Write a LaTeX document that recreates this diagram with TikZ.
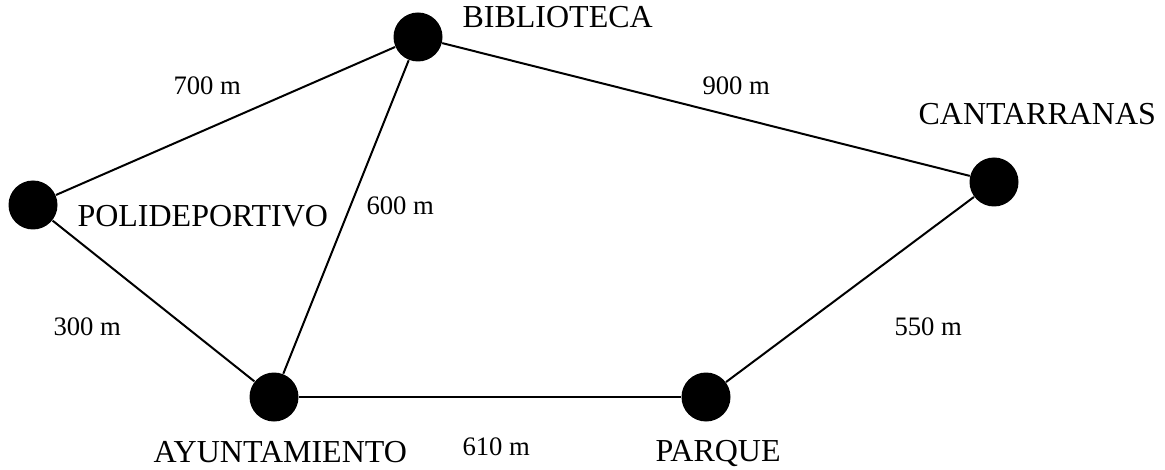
\documentclass[tikz,border=0pt]{standalone}
\usepackage{fontspec}
\setmainfont{Liberation Serif}
\begin{document}
\begin{tikzpicture}[x=0.375pt,y=-0.375pt,
  dot/.style={circle,fill=black,draw=none,minimum size=49*0.375pt,inner sep=0pt},
  place/.style={anchor=base west,inner sep=0pt,font=\fontsize{12}{14}\selectfont},
  dist/.style={anchor=base west,inner sep=0pt,font=\fontsize{10}{12}\selectfont},
  road/.style={line width=0.75pt}]
\useasboundingbox (0,0) rectangle (1165,470);
\node[dot] (bib) at (418,37) {};
\node[dot] (pol) at (33,205) {};
\node[dot] (ayu) at (274,397) {};
\node[dot] (par) at (706,397) {};
\begin{scope}
\clip (900,158) rectangle (1100,260);
\node[dot] (can) at (994,182) {};
\end{scope}
\draw[road] (pol) -- (bib);
\draw[road] (bib) -- (can);
\draw[road] (bib) -- (ayu);
\draw[road] (pol) -- (ayu);
\draw[road] (ayu) -- (par);
\draw[road] (par) -- (can);
\node[place] (lbib) at (462,28) {BIBLIOTECA};
\node[place] (lpol) at (77,227) {POLIDEPORTIVO};
\node[place] (layu) at (153,462) {AYUNTAMIENTO};
\node[place] (lpar) at (655,461) {PARQUE};
\node[place] (lcan) at (918,125) {CANTARRANAS};
\node[dist] (d700) at (173,95) {700 m};
\node[dist] (d900) at (702,95) {900 m};
\node[dist] (d600) at (366,215) {600 m};
\node[dist] (d300) at (53,335) {300 m};
\node[dist] (d550) at (894,335) {550 m};
\node[dist] (d610) at (462,455) {610 m};
\end{tikzpicture}
\end{document}
